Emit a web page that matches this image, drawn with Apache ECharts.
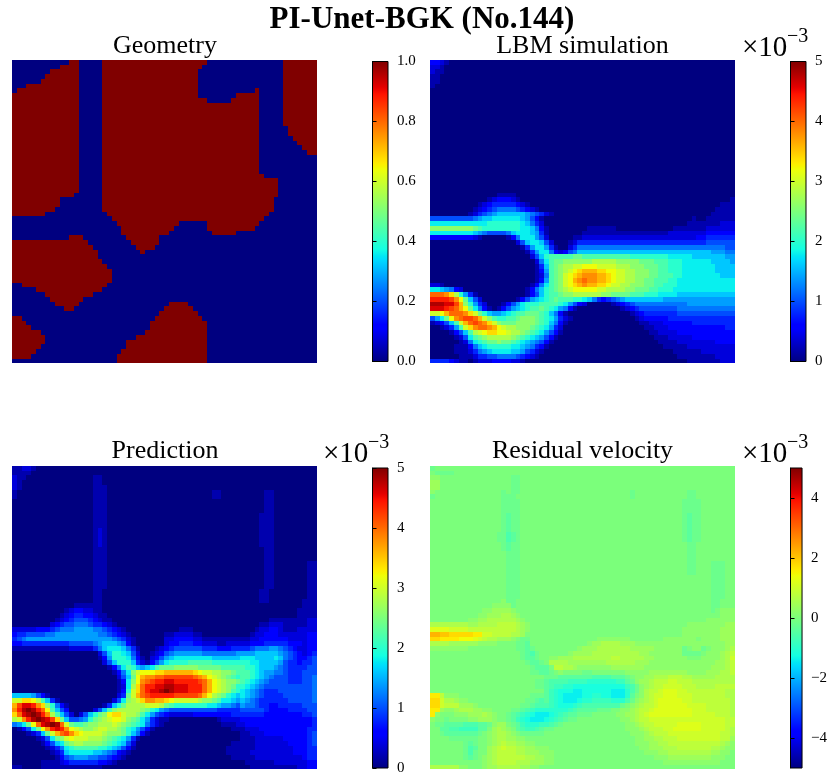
<!DOCTYPE html>
<html>
<head>
<meta charset="utf-8">
<style>
html,body{margin:0;padding:0;background:#fff;}
#main{width:830px;height:776px;}
</style>
<script src="https://cdn.jsdelivr.net/npm/echarts@6/dist/echarts.min.js"></script>
</head>
<body>
<div id="main"></div>
<script>
var mainTitle = "PI-Unet-BGK (No.144)";
var panelTitles = ["Geometry", "LBM simulation", "Prediction", "Residual velocity"];
var gridSize = 64;

// geometry: solid [from,to) column spans for each of the 64 rows
var geometrySpans = [
  [[12,14],[19,41],[57,64]],[[10,14],[19,40],[57,64]],[[8,14],[19,39],[57,64]],[[7,14],[19,39],[57,64]],
  [[6,14],[19,39],[57,64]],[[3,14],[19,39],[57,64]],[[1,14],[19,39],[51,52],[57,64]],[[0,14],[19,39],[47,52],[57,64]],
  [[0,14],[19,41],[46,52],[57,64]],[[0,14],[19,52],[57,64]],[[0,14],[19,52],[57,64]],[[0,14],[19,52],[57,64]],
  [[0,14],[19,52],[57,64]],[[0,14],[19,52],[57,64]],[[0,14],[19,52],[58,64]],[[0,14],[19,52],[58,64]],
  [[0,14],[19,52],[59,64]],[[0,14],[19,52],[60,64]],[[0,14],[19,52],[61,64]],[[0,14],[19,52],[62,64]],
  [[0,14],[19,52]],[[0,14],[19,52]],[[0,14],[19,52]],[[0,14],[19,52]],
  [[0,14],[19,53]],[[0,14],[19,56]],[[0,14],[19,56]],[[0,14],[19,56]],
  [[0,13],[19,56]],[[0,10],[19,55]],[[0,10],[19,55]],[[0,9],[19,55]],
  [[0,7],[20,54]],[[21,53]],[[22,35],[41,52]],[[23,34],[41,51]],
  [[23,33],[42,47]],[[12,15],[24,31]],[[0,16],[25,31]],[[0,17],[26,30]],
  [[0,18],[27,28]],[[0,18]],[[0,19]],[[0,20]],
  [[0,21]],[[0,21]],[[0,21]],[[2,20]],
  [[5,19]],[[7,17]],[[8,15]],[[9,14],[33,37]],
  [[11,13],[32,38]],[[31,39]],[[0,2],[30,40]],[[0,3],[29,41]],
  [[0,4],[29,41]],[[0,6],[28,41]],[[0,7],[26,41]],[[0,7],[24,41]],
  [[0,6],[24,41]],[[0,5],[23,41]],[[0,4],[22,41]],[[22,41]]
];

// fields: one base-36 digit per cell, groups of 8 columns, "-" = a group at the base level
// lbm and prediction: digit * 0.2 (x 1e-3)
var lbmRows = [
  "33210000","22100000","21100000","11000000","11000000","10000000",
  "","","","","","","","","","","","","","","","","","","","","","",
  "- 00000011 11",
  "- 00001233 32100000 - - - - 00000001",
  "- 00123444 44321000 - - - - 00000111",
  "- 01234566 66543210 - - - - 00001111",
  "- 12456788 88887654 21000000 - - - 00011111",
  "55555555 56788999 99987531 - - - 00000001 00111111",
  "99999999 9999aaaa aaa98642 - - - 00000011 11111222",
  "dddddddd dcbaaaaa aaa99863 10000000 01111110 - 00011111 11222222",
  "99999999 98765555 68999874 10000000 11111111 11111111 11222222 22333333",
  "33333333 32100000 13699975 20000011 22222222 22222222 22222222 33444444",
  "- - 00258998 52000124 44444444 44444444 44444444 44555555",
  "- - 00014799 74100246 66666666 66666666 66666666 66666655",
  "- - 00001479 96323568 88888888 88888888 88888888 88877766",
  "- - 00000258 abbbbbcc bbbbbbbb bbaaaaaa aa999998 88888877",
  "- - 00000026 9bccdddd ddeeeeed ddddcccb bbaaa999 99988887",
  "- - 00000014 8bcdeeff gggffffe eedddccc bbaaa999 99998888",
  "- - 00000013 7bcdefgh iiihhggf feedddcc bbaaa999 99998888",
  "- - 00000012 6bcdfghi jjjiihgf feedddcc bbbaa999 99999888",
  "- - 00000013 7bcdfgij kjjiihgf feeddccb bbaa9999 99999999",
  "22100000 - 00000136 9bcdfghi jiihhgff eedddccb baaa9999 99999999",
  "99876320 - 00001368 abcdefgg gggffeee eddcccbb aaa99999 99999999",
  "kkkjhea7 41000000 00001358 abbcddee eeeeddcc ccbbbaaa 99998888 88888888",
  "mmmmljgc 85200000 00135789 abcbbbaa 98643456 78888888 87777777 77777777",
  "ooonnlid a7420001 3579aaab bbba9753 20000012 34566666 66666677 77777777",
  "nnnmlkig c9631013 5789abbc ba976310 - 12345555 55556666 66666666",
  "ffgikkkj hfca8778 9abbcccb a8631000 - 00123444 44445555 55555555",
  "579cgjkl lkifdbaa bbcdddcb a9742100 - 00012333 33444444 44444444",
  "12358bfi klkjhfdc ccddddcb a8631000 - 00001122 23333334 44444444",
  "001247bf hjkkjigf eedddcba 97420000 - 00000112 22333333 33333344",
  "00001358 befghhgg feedcba9 75310000 - 00000011 22223333 33333333",
  "00000125 9bcdeeee edcba987 53100000 - 00000001 11222223 33333333",
  "00000012 69abccdc cba98765 31000000 - - 11112222 22223333",
  "00000111 3689aaaa a9987643 10000000 - - 01111122 22222222",
  "00000111 24678999 98875421 - - - 00011111 12222222",
  "00000011 12445566 66543210 - - - 00001111 11112222",
  "44443211 01222333 32210000 - - - 00000011 11111222"
];

var predictionRows = [
  "11221000","11110000",
  "21100000 - 01100000","21000000 - 01100000","21000000 - 01110000",
  "10000000 - 01110000 - - 00110000 00000110",
  "10000000 - 01110000 - - 00110000 00000110",
  "- - 01110000 - - - 00000110","- - 01110000 - - - 00000110","- - 01110000 - - - 00000110",
  "- - 01110000 - - - 00001110","- - 01110000 - - - 00001110","- - 01110000 - - - 00001110",
  "- - 01210000 - - - 00001110","- - 01210000 - - - 00001110","- - 01210000 - - - 00001110",
  "- - 01210000 - - - 00001110","- - 01110000 - - - 00000110","- - 01110000 - - - 00000110",
  "- - 01110000 - - - 00000110",
  "- - 01110000 - - - 00000110 00000011","- - 01110000 - - - 00000110 00000011",
  "- - 01110000 - - - 00000110 00000011","- - 01110000 - - - 00000110 00000011",
  "- - 01110000 - - - 00000110 00000011","- - 01110000 - - - 00000110 00000011",
  "- - 01100000 - - - 00001100 00000011",
  "- - 01100000 - - - 00001100 00000011",
  "- - 01100000 - - - 00001100 00000111",
  "- 00000111 11100000 - - - - 00000111",
  "- 00012332 21100000 - - - - 00001111",
  "- 00123443 32110000 - - - - 00001111",
  "- 01234555 43211000 - - - 00000011 11111122",
  "- 23455666 54432100 - - - 00001122 21111122",
  "22222333 45666777 76654321 - 00011100 - 00012233 21112222",
  "34455556 67777777 77665432 10000000 11222211 - 00122333 22222233",
  "45677777 77777777 77777654 21000000 22333322 11111111 11223333 33222233",
  "33444444 44445555 56788876 31000000 23344433 22211222 22333444 44333233",
  "11111111 11112222 24689998 64100012 34555555 44433344 44566677 65432233",
  "- - 00258aa9 85200123 56777777 66666667 77788888 76543234",
  "- - 00137aaa 96310235 78999999 99888888 99988889 86543345",
  "- - 000258aa a8421357 9aaaabbb bbaaaaaa aa998888 75443445",
  "- - 00001369 ba8789bc ccdddddc ccccbbbb baa98887 65444455",
  "- - 00000136 9dfggghh iiiiiihg ffeeddcb bba98776 65444555",
  "- - 00000025 8cgijjkk llllllkj igfedcba bba98765 55444556",
  "- - 00000013 9dgjklmm nnmmmmml kigfeddc ba987655 55444556",
  "- - 00000012 9ehkmmnn oonnnmmm kigfedca a9876555 55555556",
  "- - 00000013 afhkmnno ponnnmmm kigfedba 98765444 55555556",
  "88887531 - 00000024 cfiklmmm mmlllllk igedca98 98765444 45555556",
  "ffhhgeb8 41000000 00000259 defhjjii hgfffffe ddcb9987 87654444 44555556",
  "ilnnmjhd a6310000 000148ac eeeefffe cbaaaaaa a9987765 76654433 44444555",
  "jmopomkg b8530000 0258bdee eeedca97 65555555 55544444 55555433 33444455",
  "hknopomj eb852025 8acdghhf eedb9754 32222233 33333344 44444333 33333445",
  "efjmopon lhc85567 acdefggf dcb97421 10000000 00012222 33333333 33333334",
  "679cgkno pokfcbbc ddeeefed cba96421 - 00001112 23333333 33333334",
  "01359cgj mnmjgfed deffeedc a9753100 - 00000011 12223333 33333344",
  "0001248c fikljhgf fffedddc a8631000 - - 11222333 33333345",
  "00000125 9cdfgfff eeedcba9 74100000 - - 11122222 23333345",
  "00000013 589cdeed dddcba98 52000000 - 00000011 11122222 22333345",
  "00000001 2469abbb bbaa9875 31000000 - 00000111 11122222 22233344",
  "- 12489999 98876532 10000000 - 00000111 11222222 22233344",
  "- 01356777 66554321 - - 00000011 11122222 22222344",
  "00000011 11234444 44332100 - - - 01111112 22222233",
  "11000011 11111111 11100000 - - - 00111111 11112233"
];

// residual: (digit - 10) * 0.2 (x 1e-3), so "a" is zero
var residualRows = [
  "9aaaaaaa","a9999aaa",
  "bbaaaaaa - a99aaaaa","ccaaaaaa - a99aaaaa","ccaaaaaa - a99aaaaa",
  "baaaaaaa aaaaaaa9 a99aaaaa - - aa9aaaaa aaaaaa99",
  "9aaaaaaa aaaaaaa9 99aaaaaa - - aa9aaaaa aaaaaa99",
  "- aaaaaaa9 999aaaaa - - - aaaaa999 9","- aaaaaaa9 999aaaaa - - - aaaaa999 9","- aaaaaaa9 999aaaaa - - - aaaaa999 9",
  "- aaaaaaa9 899aaaaa - - - aaaaa989 9","- aaaaaaa9 899aaaaa - - - aaaaa989 9","- aaaaaaa9 899aaaaa - - - aaaaa989 9",
  "- aaaaaaa9 899aaaaa - - - aaaaa989 9",
  "- aaaaaa99 789aaaaa - - - aaaaa989 9","- aaaaaa99 789aaaaa - - - aaaaa989 9",
  "- aaaaaaa9 899aaaaa - - - aaaaaa99","- aaaaaaa9 899aaaaa - - - aaaaaa99",
  "- - 999aaaaa - - - aaaaaa99","- - 999aaaaa - - - aaaaaa99",
  "- - 999aaaaa - - - aaaaaa99 aaa999aa","- - 999aaaaa - - - aaaaaa99 aaa999aa","- - 999aaaaa - - - aaaaaa99 aaa999aa",
  "- - 999aaaaa - - - - aaa999aa","- - 999aaaaa - - - - aaa999aa","- - 999aaaaa - - - - aaa999aa",
  "- - 999aaaaa - - - - aaa999aa","- - 999aaaaa - - - - aaa999aa",
  "- aaaaaaab 99aaaaaa - - - - aaa99aaa",
  "- aaaaabbb b9aaaaaa - - - - aaa99aaa",
  "- aaabbccc cbaaaaaa - - - - aaa9abbb",
  "- aabbcccd dcbaaaaa - - - - aaaaabbb",
  "- bbccdddd ddcbaaaa - - - - aabbbbbb",
  "dddddddd ccddddee eedcbaaa - - - aaaaaabb bbbbbbcc",
  "ggggffff eeeeeeee eedcbaaa - - - aaaaabbb bbbbbccc",
  "llkkjjjj jiiffeee eddcaaaa - - - aaaaabbb bbbbbccc",
  "jjiiiihh hgfeddcc cba99aaa - aaabbbbb bbaaaaaa abbbbbbb abbbbccc",
  "ddddcccc ccbbbbaa aa998aaa - abccdddd cccbbbbb bbbbbbbb bbbbbbcc",
  "bbbbbbbb - aa9989aa aaaaaaab cccddddd ddcccccb bbbbb9ab b9abbbcd",
  "- - aaa9879a aaaaabcc ccdddddd ddddccbb bbbbb999 9abbbcde",
  "- - aaa9889a abbcccdd ddddddee dddddccb bbbbbbaa abbbbcdf",
  "- - aaaa9889 addddccc cccccddd dddcccbb bbbbbbbb bbbbccde",
  "- - aaaaa988 8aeeddcb bbbbbbcc cccccbbb bbbbbbbb bbbcccde",
  "- - aaaaa998 89abaaaa 99aaaaaa abbbbbcc ccccccbb bbcccdde",
  "- - - 99988888 88777788 89abbccd ddeeeddc ccccdddd",
  "- - aaaaaa99 87777666 65555556 689bccde eeffeeed dddddddd",
  "- - aaaaaa99 87665544 44444444 4679bcde effffeee ddddeeee",
  "- - - 86544433 44444433 3579bdee fgggffee eeeeeedd",
  "iiebbbaa - aaaaa999 86543333 44554433 358abdef fgggfffe eeeeeedd",
  "jjfddcbb - aaaa9987 86543334 55666655 579bcdef gggggffe eeeeeeed",
  "jjfeeecc cbaaaaaa aaa99877 76544456 77777777 9abcdeef ggggggff ffeeeeed",
  "iicbbcdd dccbbaaa a9987655 55555678 888999aa bbcdeefg gggggggf ffeeeeed",
  "ibaaabbb cccdcbaa 98765433 34567889 99aaaaab bccdefgg gggggggf ffffeeed",
  "baa9aaaa bbcccbaa 98654333 4567899a - bbcdeeff ffffffff ffffffee",
  "a9988887 77889bcc a9865556 6789aaaa - abbcdeef ffffgggg gfffffee",
  "aa887766 6688acdc ba876678 99aaaaaa - abbbcdee effggggg gfffffed",
  "aa988888 889abcdd cba99999 - - aabbbcde eeffffff fffffeed",
  "aaaa9999 99aabcdd ccbbaaaa - - aaabbccd deeeffff fffffeec",
  "aaaaaaa9 89aabcde ddccbbaa - - aaabbbcc ddeeeeee eeeeedcb",
  "aaaaaaa9 78aacdef eeddccbb baaaaaaa - aaaabbcc cdddeeee eeeddcbb",
  "aaaaaaa9 79aacdee eeddcccb bbaaaaaa - aaaaabbb ccdddddd dddccbba",
  "aaaaaaa9 89abcdee eeeeddcc bbaaaaaa - aaaaaaab bbcccccc cccbbbaa",
  "- aaabcdee eedddccc bbaaaaaa - - abbbbbbb bbbbbaaa",
  "ddddddbb aaabccdd dddccbba"
];

var geometryTicks = [0, 0.2, 0.4, 0.6, 0.8, 1];
var fieldTicks = [0, 1, 2, 3, 4, 5];
var residualTicks = [-4, -2, 0, 2, 4];

// matplotlib jet
function ramp(t, pts) {
  for (var i = 1; i < pts.length; i++) {
    if (t <= pts[i][0]) {
      var a = pts[i - 1], b = pts[i];
      return a[1] + (b[1] - a[1]) * (t - a[0]) / (b[0] - a[0]);
    }
  }
  return pts[pts.length - 1][1];
}
function jet(t) {
  var r = ramp(t, [[0, 0], [0.35, 0], [0.66, 1], [0.89, 1], [1, 0.5]]);
  var g = ramp(t, [[0, 0], [0.125, 0], [0.375, 1], [0.64, 1], [0.91, 0], [1, 0]]);
  var b = ramp(t, [[0, 0.5], [0.11, 1], [0.34, 1], [0.65, 0], [1, 0]]);
  return "rgb(" + Math.round(r * 255) + "," + Math.round(g * 255) + "," + Math.round(b * 255) + ")";
}
var jetColors = [];
var jetStops = [];
for (var i = 0; i <= 128; i++) {
  jetColors.push(jet(i / 128));
  jetStops.push({ offset: i / 128, color: jet(i / 128) });
}

function decodeRows(rows, baseChar, zero) {
  var out = [];
  rows.forEach(function(row, y) {
    var s = row.split(" ").map(function(g) {
      return g === "-" ? baseChar.repeat(8) : g;
    }).join("");
    s = s.padEnd(gridSize, baseChar);
    for (var x = 0; x < gridSize; x++) {
      out.push([x, y, (parseInt(s[x], 36) - zero) * 0.2]);
    }
  });
  return out;
}
function decodeSpans(spans) {
  var out = [];
  spans.forEach(function(row, y) {
    for (var x = 0; x < gridSize; x++) {
      var solid = row.some(function(s) { return x >= s[0] && x < s[1]; });
      out.push([x, y, solid ? 1 : 0]);
    }
  });
  return out;
}

var fields = [
  decodeSpans(geometrySpans),
  decodeRows(lbmRows, "0", 0),
  decodeRows(predictionRows, "0", 0),
  decodeRows(residualRows, "a", 10)
];
var ranges = [[0, 1], [0, 5], [0, 5], [-5, 5]];
var ticks = [geometryTicks, fieldTicks, fieldTicks, residualTicks];
var labelFmt = [
  function(v) { return v.toFixed(1); },
  function(v) { return String(v); },
  function(v) { return String(v); },
  function(v) { return String(v).replace("-", "\u2212"); }
];

var fontName = "Liberation Serif";
var panelLeft = [12, 430, 12, 430];
var panelTop = [60, 60, 466, 466];
var barLeft = [372.5, 790.5, 372.5, 790.5];
var barTop = [61.5, 61.5, 468, 468];
var panelW = 304.5, panelH = 303.3;
var barW = 15.5, barH = 300;

// cell edges snapped to whole pixels, like imshow with nearest, so no seams show
function renderCell(params, api) {
  var p = api.coord([api.value(0), api.value(1)]);
  var s = api.size([1, 1]);
  var x0 = Math.round(p[0] - s[0] / 2), x1 = Math.round(p[0] + s[0] / 2);
  var y0 = Math.round(p[1] - s[1] / 2), y1 = Math.round(p[1] + s[1] / 2);
  return {
    type: "rect",
    shape: { x: x0, y: y0, width: x1 - x0, height: y1 - y0 },
    style: { fill: api.visual("color") }
  };
}

var grids = [], xAxes = [], yAxes = [], series = [], visualMaps = [];
var columns = [];
for (var c = 0; c < gridSize; c++) columns.push(c);

// heat panels are grids 0-3, colorbars are grids 4-7
for (let k = 0; k < 4; k++) {
  grids.push({ left: panelLeft[k], top: panelTop[k], width: panelW, height: panelH });
  xAxes.push({ gridIndex: k, type: "category", data: columns, show: false });
  yAxes.push({ gridIndex: k, type: "category", data: columns, inverse: true, show: false });
  series.push({
    type: "custom",
    renderItem: renderCell,
    xAxisIndex: k,
    yAxisIndex: k,
    encode: { x: 0, y: 1 },
    data: fields[k],
    progressive: 0,
    silent: true
  });
  visualMaps.push({
    show: false,
    seriesIndex: k,
    dimension: 2,
    min: ranges[k][0],
    max: ranges[k][1],
    inRange: { color: jetColors }
  });
}
for (let k = 0; k < 4; k++) {
  grids.push({
    show: true,
    left: barLeft[k],
    top: barTop[k],
    width: barW,
    height: barH,
    borderColor: "#000",
    borderWidth: 1,
    backgroundColor: { type: "linear", x: 0, y: 1, x2: 0, y2: 0, colorStops: jetStops }
  });
  xAxes.push({ gridIndex: 4 + k, type: "value", min: 0, max: 1, show: false });
  yAxes.push({
    gridIndex: 4 + k,
    type: "value",
    position: "right",
    min: ranges[k][0],
    max: ranges[k][1],
    splitLine: { show: false },
    axisLine: { show: true, lineStyle: { color: "#000", width: 1 } },
    axisTick: { show: true, length: 4, customValues: ticks[k], lineStyle: { color: "#000", width: 1 } },
    axisLabel: {
      show: true,
      margin: 9,
      customValues: ticks[k],
      formatter: labelFmt[k],
      color: "#000",
      fontFamily: fontName,
      fontSize: 15
    }
  });
}

var titles = [{
  text: mainTitle,
  left: 422,
  top: 4,
  padding: 0,
  textAlign: "center",
  textStyle: { fontFamily: fontName, fontWeight: "bold", fontSize: 31, color: "#000" }
}];
var titleX = [165, 582.5, 165, 582.5];
var titleY = [33, 33, 438, 438];
panelTitles.forEach(function(t, k) {
  titles.push({
    text: t,
    left: titleX[k],
    top: titleY[k],
    padding: 0,
    textAlign: "center",
    textStyle: { fontFamily: fontName, fontWeight: "normal", fontSize: 26, color: "#000" }
  });
});
var expX = [742, 323, 742];
var expY = [34, 440, 440];
expX.forEach(function(x, k) {
  titles.push({
    text: "\u00d710",
    left: x,
    top: expY[k],
    padding: 0,
    textStyle: { fontFamily: fontName, fontWeight: "normal", fontSize: 29, color: "#000" }
  });
  titles.push({
    text: "\u22123",
    left: x + 45,
    top: expY[k] - 7,
    padding: 0,
    textStyle: { fontFamily: fontName, fontWeight: "normal", fontSize: 20, color: "#000" }
  });
});

var myChart = echarts.init(document.getElementById("main"), null, { renderer: "canvas" });
myChart.setOption({
  animation: false,
  backgroundColor: "#fff",
  title: titles,
  grid: grids,
  xAxis: xAxes,
  yAxis: yAxes,
  visualMap: visualMaps,
  series: series
});
</script>
</body>
</html>
